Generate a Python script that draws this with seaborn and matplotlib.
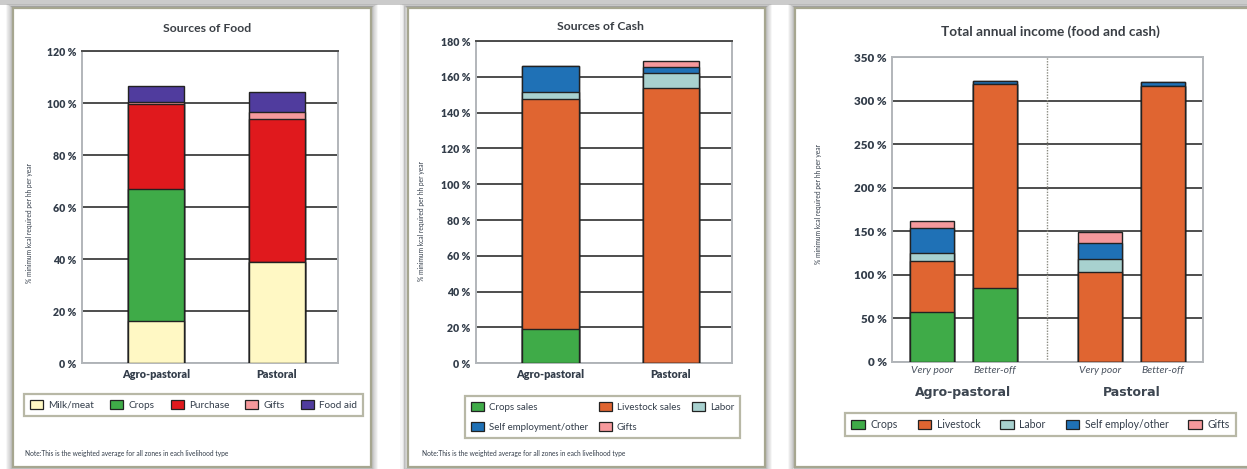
import numpy as np
import matplotlib
matplotlib.use("Agg")
import matplotlib.pyplot as plt
import matplotlib.transforms as mtransforms
from matplotlib.patches import Rectangle, Patch
import seaborn as sns

# ---- data -------------------------------------------------------------
food_groups = ["Agro-pastoral", "Pastoral"]
food_labels = ["Milk/meat", "Crops", "Purchase", "Gifts", "Food aid"]
food_milk_meat = [16.0, 39.0]
food_crops = [51.0, 0.0]
food_purchase = [32.5, 55.0]
food_gifts = [1.0, 2.5]
food_aid = [6.0, 7.7]

cash_groups = ["Agro-pastoral", "Pastoral"]
cash_labels = ["Crops sales", "Livestock sales", "Labor", "Self employment/other", "Gifts"]
cash_crops = [19.3, 0.0]
cash_livestock = [128.5, 153.6]
cash_labor = [3.8, 8.4]
cash_self_employment = [14.4, 3.4]
cash_gifts = [0.0, 3.3]

income_zones = ["Agro-pastoral", "Pastoral"]
income_wealth = ["Very poor", "Better-off", "Very poor", "Better-off"]
income_labels = ["Crops", "Livestock", "Labor", "Self employ/other", "Gifts"]
income_crops = [57.0, 84.5, 0.0, 0.0]
income_livestock = [59.0, 235.0, 103.0, 317.5]
income_labor = [9.0, 0.0, 15.3, 0.0]
income_self_employment = [28.5, 4.0, 18.1, 4.3]
income_gifts = [8.7, 0.0, 12.6, 0.0]

food_ticks = [0, 20, 40, 60, 80, 100, 120]
cash_ticks = [0, 20, 40, 60, 80, 100, 120, 140, 160, 180]
income_ticks = [0, 50, 100, 150, 200, 250, 300, 350]

# ---- style ------------------------------------------------------------
sns.set_theme(style="white")
plt.rcParams["font.family"] = ["Lato", "DejaVu Sans"]

TXT = "#333d4a"
EDGE = "#222222"
GRID = "#4d4d4d"
SPINE = "#b2b6ba"
FRAME = "#a6a690"

C_MILK = "#fff8c4"
C_CROPS = "#3fab48"
C_PURCHASE = "#e0191d"
C_GIFTS = "#f6999c"
C_AID = "#503c9e"
C_LIVESTOCK = "#e06531"
C_LABOR = "#a8d1cf"
C_SELF = "#1f71b6"

W, H = 1247, 469
fig = plt.figure(figsize=(W / 100, H / 100), dpi=100, facecolor="white")


def px_rect(x0, y0, x1, y1, **kw):
    """Rectangle given in pixel coordinates measured from the top-left."""
    return Rectangle((x0 / W, 1 - y1 / H), (x1 - x0) / W, (y1 - y0) / H,
                     transform=fig.transFigure, **kw)


# page strip and the three cards with soft shadows
fig.add_artist(px_rect(0, 0, W, 5, facecolor="#cbcbcb", edgecolor="none", zorder=-3))
cards = [(13, 8, 371, 467), (407.5, 8, 765, 467), (795, 8, 1262, 467)]
for (x0, y0, x1, y1) in cards:
    for k, a in zip(range(6, 0, -1), [0.04, 0.06, 0.08, 0.11, 0.14, 0.18]):
        fig.add_artist(px_rect(x0 - k, y0 - k / 2, x1 + k, y1 + k, facecolor="none",
                               edgecolor="black", alpha=a, lw=1.2, zorder=-2))
    fig.add_artist(px_rect(x0, y0, x1, y1, facecolor="white", edgecolor=FRAME,
                           lw=1.6, zorder=-1))


def make_axes(left, top, right, bottom):
    ax = fig.add_axes([left / W, 1 - bottom / H, (right - left) / W, (bottom - top) / H])
    ax.set_zorder(2)
    return ax


def stacked(ax, x, layers, colors, width, native=False):
    cum = np.cumsum(np.asarray(layers, dtype=float), axis=0)
    for i in range(len(layers) - 1, -1, -1):
        sns.barplot(x=x, y=cum[i], color=colors[i], width=width, saturation=1,
                    edgecolor=EDGE, linewidth=1.0, errorbar=None,
                    native_scale=native, ax=ax, zorder=3)


def style_axes(ax, ticks, top_dark=True, tick_size=7.6):
    ax.set_ylim(ticks[0], ticks[-1])
    ax.set_yticks(ticks, labels=[f"{t} %" for t in ticks],
                  fontsize=tick_size, fontweight="heavy", color=TXT)
    ax.yaxis.grid(True, color=GRID, lw=1.4)
    ax.xaxis.grid(False)
    ax.set_axisbelow(True)
    for side, sp in ax.spines.items():
        sp.set_visible(True)
        sp.set_color(SPINE)
        sp.set_linewidth(1.4)
    if top_dark:
        ax.spines["top"].set_color(GRID)
    ax.tick_params(axis="both", length=0)
    ax.tick_params(axis="y", pad=4)
    ax.set_xlabel("")
    ax.set_ylabel("% minimum kcal required per hh per year", fontsize=4.8, color=TXT)


def legend(ax, handles, x0, y0, x1, y1, ncol, fontsize=7.2, rows_gap=0.5, colgap=0.8,
           expand=True):
    leg = ax.legend(handles=handles, ncol=ncol, loc="center",
                    mode="expand" if expand else None,
                    bbox_to_anchor=(x0 / W, 1 - y1 / H, (x1 - x0) / W, (y1 - y0) / H),
                    bbox_transform=fig.transFigure, frameon=True, fancybox=False,
                    fontsize=fontsize, handlelength=1.3, handleheight=1.0,
                    handletextpad=0.5, columnspacing=colgap, borderpad=0.6,
                    labelspacing=rows_gap, borderaxespad=0)
    fr = leg.get_frame()
    fr.set_edgecolor(FRAME)
    fr.set_linewidth(1.6)
    for t in leg.get_texts():
        t.set_color(TXT)
    return leg


def patches(labels, colors):
    return [Patch(facecolor=c, edgecolor=EDGE, lw=0.9, label=l) for l, c in zip(labels, colors)]


def bold_xticks(ax):
    ax.tick_params(axis="x", pad=4)
    for lab in ax.get_xticklabels():
        lab.set_fontsize(7.8)
        lab.set_fontweight("heavy")
        lab.set_color(TXT)


NOTE = "Note:This is the weighted average for all zones in each livelihood type"

# ---- panel 1: sources of food -----------------------------------------
ax1 = make_axes(82, 51, 338, 363)
food_colors = [C_MILK, C_CROPS, C_PURCHASE, C_GIFTS, C_AID]
stacked(ax1, food_groups, [food_milk_meat, food_crops, food_purchase, food_gifts, food_aid],
        food_colors, width=0.465)
style_axes(ax1, food_ticks)
ax1.set_xlim(-0.614, 1.51)
bold_xticks(ax1)
ax1.yaxis.set_label_coords(-0.19, 0.45)
fig.text(207 / W, 1 - 29 / H, "Sources of Food", ha="center", va="center",
         fontsize=8.8, fontweight="bold", color="#3a3f45")
legend(ax1, patches(food_labels, food_colors), 24, 391, 363, 419, ncol=5)
fig.text(25 / W, 1 - 453 / H, NOTE, fontsize=4.8, color=TXT, va="center")

# ---- panel 2: sources of cash -----------------------------------------
ax2 = make_axes(476, 41, 732, 363.3)
cash_colors = [C_CROPS, C_LIVESTOCK, C_LABOR, C_SELF, C_GIFTS]
stacked(ax2, cash_groups, [cash_crops, cash_livestock, cash_labor, cash_self_employment, cash_gifts],
        cash_colors, width=0.467)
style_axes(ax2, cash_ticks)
ax2.set_xlim(-0.62, 1.51)
bold_xticks(ax2)
ax2.yaxis.set_label_coords(-0.2, 0.44)
fig.text(600 / W, 1 - 26 / H, "Sources of Cash", ha="center", va="center",
         fontsize=8.8, fontweight="bold", color="#3a3f45")
# legend fills column by column, so order the entries to read row by row
cash_handles = patches(cash_labels, cash_colors)
row_major = [cash_handles[i] for i in (0, 3, 1, 4, 2)]
legend(ax2, row_major, 468, 392, 737, 442, ncol=3, fontsize=7.0, rows_gap=1.1,
       colgap=1.2, expand=False)
fig.text(422 / W, 1 - 453 / H, NOTE, fontsize=4.8, color=TXT, va="center")

# ---- panel 3: total annual income -------------------------------------
ax3 = make_axes(892.3, 57.5, 1203.3, 361.7)
group_gap = 0.67
bar_x = []
for z in range(len(income_zones)):
    for w in range(2):
        bar_x.append(z * (2 + group_gap) + w)
income_colors = [C_CROPS, C_LIVESTOCK, C_LABOR, C_SELF, C_GIFTS]
stacked(ax3, bar_x, [income_crops, income_livestock, income_labor, income_self_employment, income_gifts],
        income_colors, width=0.70, native=True)
style_axes(ax3, income_ticks, top_dark=False, tick_size=8.4)
ax3.set_xlim(-0.63, 4.31)
ax3.set_xticks(bar_x, labels=income_wealth)
ax3.tick_params(axis="x", pad=3)
for lab in ax3.get_xticklabels():
    lab.set_fontsize(7.5)
    lab.set_fontstyle("italic")
    lab.set_color("#4a5360")
divider = (bar_x[1] + bar_x[2]) / 2
ax3.axvline(divider, color="#8a8a80", lw=1.0, ls=(0, (1, 1)), zorder=1)
blend = mtransforms.blended_transform_factory(ax3.transData, ax3.transAxes)
for z, name in enumerate(income_zones):
    cx = (bar_x[2 * z] + bar_x[2 * z + 1]) / 2
    ax3.text(cx, -0.1, name, transform=blend, ha="center", va="center",
             fontsize=9, fontweight="bold", color="#3c4550", family="DejaVu Sans")
ax3.yaxis.set_label_coords(-0.226, 0.52)
fig.text(1050 / W, 1 - 32 / H, "Total annual income (food and cash)", ha="center", va="center",
         fontsize=9.8, fontweight="bold", color="#3a3f45")
legend(ax3, patches(income_labels, income_colors), 845, 409, 1236, 440, ncol=5, fontsize=7.6)

fig.savefig("out.png", dpi=100, facecolor=fig.get_facecolor())
